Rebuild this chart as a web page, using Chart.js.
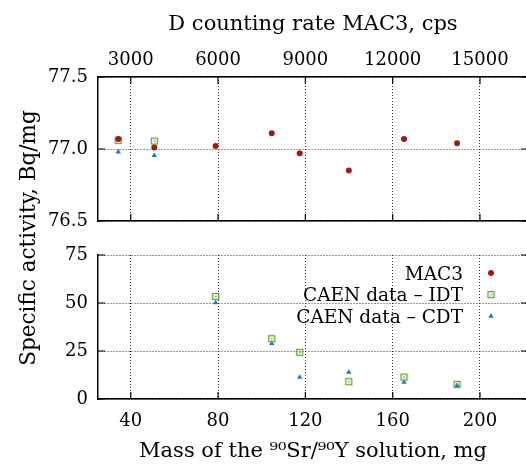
<!DOCTYPE html>
<html>
<head>
<meta charset="utf-8">
<script src="https://cdn.jsdelivr.net/npm/chart.js@4.4.1/dist/chart.umd.min.js"></script>
<style>
  html, body { margin: 0; padding: 0; background: #fff; overflow: hidden; }
  #wrap { position: relative; width: 540px; height: 466px; }
  #wrap canvas { position: absolute; left: 0; top: 0; }
</style>
</head>
<body>
<div id="wrap">
  <canvas id="top-chart" width="540" height="466"></canvas>
  <canvas id="bottom-chart" width="540" height="466"></canvas>
</div>
<script>
  // values
  const massMg = [34.3, 50.8, 78.9, 104.6, 117.4, 139.9, 165.2, 189.5];
  const mac3 = [77.07, 77.01, 77.02, 77.11, 76.97, 76.85, 77.07, 77.04];
  const caenIdt = [77.06, 77.055, 53.4, 31.4, 24.3, 9.0, 11.4, 7.6];
  const caenCdt = [76.98, 76.955, 50.1, 28.9, 11.3, 13.9, 8.8, 7.1];

  const massRange = [25, 222];
  const massTicks = [40, 80, 120, 160, 200];
  const cpsPerMg = 75;
  const cpsTicks = [3000, 6000, 9000, 12000, 15000];
  const topTicks = [76.5, 77.0, 77.5];
  const bottomTicks = [0, 25, 50, 75];

  const seriesLabels = ['MAC3', 'CAEN data \u2013 IDT', 'CAEN data \u2013 CDT'];

  Chart.defaults.font.family = '"DejaVu Serif", serif';
  Chart.defaults.font.size = 18;
  Chart.defaults.color = '#000';

  const RED = '#9c1c14';
  const GREEN = '#62a637';
  const BLUE = '#1a78c8';

  // open square with a dot, like the gnuplot marker
  function squareMarker() {
    const c = document.createElement('canvas');
    c.width = 9;
    c.height = 9;
    const g = c.getContext('2d');
    g.strokeStyle = GREEN;
    g.lineWidth = 1.3;
    g.strokeRect(1.5, 1.5, 6, 6);
    g.fillStyle = GREEN;
    g.fillRect(3.8, 3.8, 1.6, 1.6);
    return c;
  }
  const idtMarker = squareMarker();

  function points(ys) {
    return massMg.map((m, i) => ({x: m, y: ys[i]}));
  }

  function datasets() {
    return [
      {label: seriesLabels[0], data: points(mac3), pointStyle: 'circle', pointRadius: 3,
        backgroundColor: RED, borderColor: RED, borderWidth: 0, clip: 0},
      {label: seriesLabels[1], data: points(caenIdt), pointStyle: idtMarker, pointRadius: 4,
        backgroundColor: GREEN, borderColor: GREEN, borderWidth: 0, clip: 0},
      {label: seriesLabels[2], data: points(caenCdt), pointStyle: 'triangle', pointRadius: 3.1,
        backgroundColor: BLUE, borderColor: BLUE, borderWidth: 0, clip: 0}
    ];
  }

  const gridLines = {color: 'rgba(0,0,0,0.8)', lineWidth: 1, drawTicks: false};
  const dotted = {display: true, dash: [1, 2], color: '#000', width: 1.5};

  // short solid ticks pointing into the plot, mirrored on left/right
  const innerTicks = {
    id: 'innerTicks',
    beforeDatasetsDraw(chart, args, opts) {
      const {ctx, chartArea: a} = chart;
      const len = opts.length || 7;
      ctx.save();
      ctx.strokeStyle = '#000';
      ctx.lineWidth = 1.2;
      ctx.beginPath();
      Object.values(chart.scales).forEach(scale => {
        scale.ticks.forEach(t => {
          const p = scale.getPixelForValue(t.value);
          if (scale.isHorizontal()) {
            if (scale.position === 'bottom') {
              ctx.moveTo(p, a.bottom);
              ctx.lineTo(p, a.bottom - len);
            } else {
              ctx.moveTo(p, a.top);
              ctx.lineTo(p, a.top + len);
            }
          } else {
            ctx.moveTo(a.left, p);
            ctx.lineTo(a.left + len, p);
            ctx.moveTo(a.right, p);
            ctx.lineTo(a.right - len, p);
          }
        });
      });
      ctx.stroke();
      ctx.restore();
    }
  };

  const legendBox = {
    id: 'legendBox',
    afterDatasetsDraw(chart, args, opts) {
      const ctx = chart.ctx;
      ctx.save();
      ctx.font = opts.font;
      ctx.textAlign = 'right';
      ctx.textBaseline = 'middle';
      chart.data.datasets.forEach((ds, i) => {
        const y = opts.top + i * opts.rowHeight;
        ctx.fillStyle = '#000';
        ctx.fillText(ds.label, opts.textRight, y);
        ctx.fillStyle = ds.backgroundColor;
        ctx.strokeStyle = ds.borderColor;
        Chart.helpers.drawPoint(ctx, {
          pointStyle: ds.pointStyle, radius: ds.pointRadius, borderWidth: 0, rotation: 0
        }, opts.markerX, y + opts.markerDy);
      });
      ctx.restore();
    }
  };

  const yTitle = {
    id: 'yTitle',
    afterDraw(chart, args, opts) {
      const ctx = chart.ctx;
      ctx.save();
      ctx.translate(opts.x, opts.y);
      ctx.rotate(-Math.PI / 2);
      ctx.font = opts.font;
      ctx.fillStyle = '#000';
      ctx.textAlign = 'center';
      ctx.textBaseline = 'middle';
      ctx.fillText(opts.text, 0, 0);
      ctx.restore();
    }
  };

  new Chart(document.getElementById('top-chart').getContext('2d'), {
    type: 'scatter',
    data: {datasets: datasets()},
    plugins: [innerTicks],
    options: {
      responsive: false,
      animation: false,
      devicePixelRatio: 1,
      layout: {padding: {right: 12}},
      plugins: {legend: {display: false}, tooltip: {enabled: false}, innerTicks: {length: 7}},
      scales: {
        x: {
          type: 'linear', position: 'bottom', min: massRange[0], max: massRange[1],
          afterBuildTicks: s => { s.ticks = massTicks.map(v => ({value: v})); },
          afterFit: s => { s.height = 245; },
          ticks: {display: false},
          grid: gridLines,
          border: dotted
        },
        x2: {
          type: 'linear', position: 'top',
          min: massRange[0] * cpsPerMg, max: massRange[1] * cpsPerMg,
          afterBuildTicks: s => { s.ticks = cpsTicks.map(v => ({value: v})); },
          afterFit: s => { s.height = 77; },
          ticks: {padding: 6, autoSkip: false, maxRotation: 0, callback: v => String(v)},
          title: {display: true, text: 'D counting rate MAC3, cps', font: {size: 21}, padding: {top: 12, bottom: 0}},
          grid: {drawOnChartArea: false, drawTicks: false},
          border: {display: true, color: '#000', width: 1.5}
        },
        y: {
          type: 'linear', position: 'left', min: 76.5, max: 77.5,
          afterBuildTicks: s => { s.ticks = topTicks.map(v => ({value: v})); },
          afterFit: s => { s.width = 98; },
          ticks: {padding: 10, callback: v => v.toFixed(1)},
          grid: gridLines,
          border: dotted
        }
      }
    }
  });

  new Chart(document.getElementById('bottom-chart').getContext('2d'), {
    type: 'scatter',
    data: {datasets: datasets()},
    plugins: [innerTicks, legendBox, yTitle],
    options: {
      responsive: false,
      animation: false,
      devicePixelRatio: 1,
      layout: {padding: {top: 255, right: 12}},
      plugins: {
        legend: {display: false},
        tooltip: {enabled: false},
        innerTicks: {length: 7},
        legendBox: {font: '18.5px "DejaVu Serif"', top: 275, rowHeight: 21.6, textRight: 463, markerX: 491, markerDy: -2},
        yTitle: {text: 'Specific activity, Bq/mg', font: '21.5px "DejaVu Serif"', x: 29, y: 238}
      },
      scales: {
        x: {
          type: 'linear', position: 'bottom', min: massRange[0], max: massRange[1],
          afterBuildTicks: s => { s.ticks = massTicks.map(v => ({value: v})); },
          afterFit: s => { s.height = 67; },
          ticks: {padding: 12, autoSkip: false, maxRotation: 0},
          title: {display: true, text: 'Mass of the \u2079\u2070Sr/\u2079\u2070Y solution, mg', font: {size: 21}, padding: {top: 0, bottom: 1.5}},
          grid: gridLines,
          border: dotted
        },
        y: {
          type: 'linear', position: 'left', min: 0, max: 75,
          afterBuildTicks: s => { s.ticks = bottomTicks.map(v => ({value: v})); },
          afterFit: s => { s.width = 98; },
          ticks: {padding: 10},
          grid: gridLines,
          border: dotted
        }
      }
    }
  });
</script>
</body>
</html>
